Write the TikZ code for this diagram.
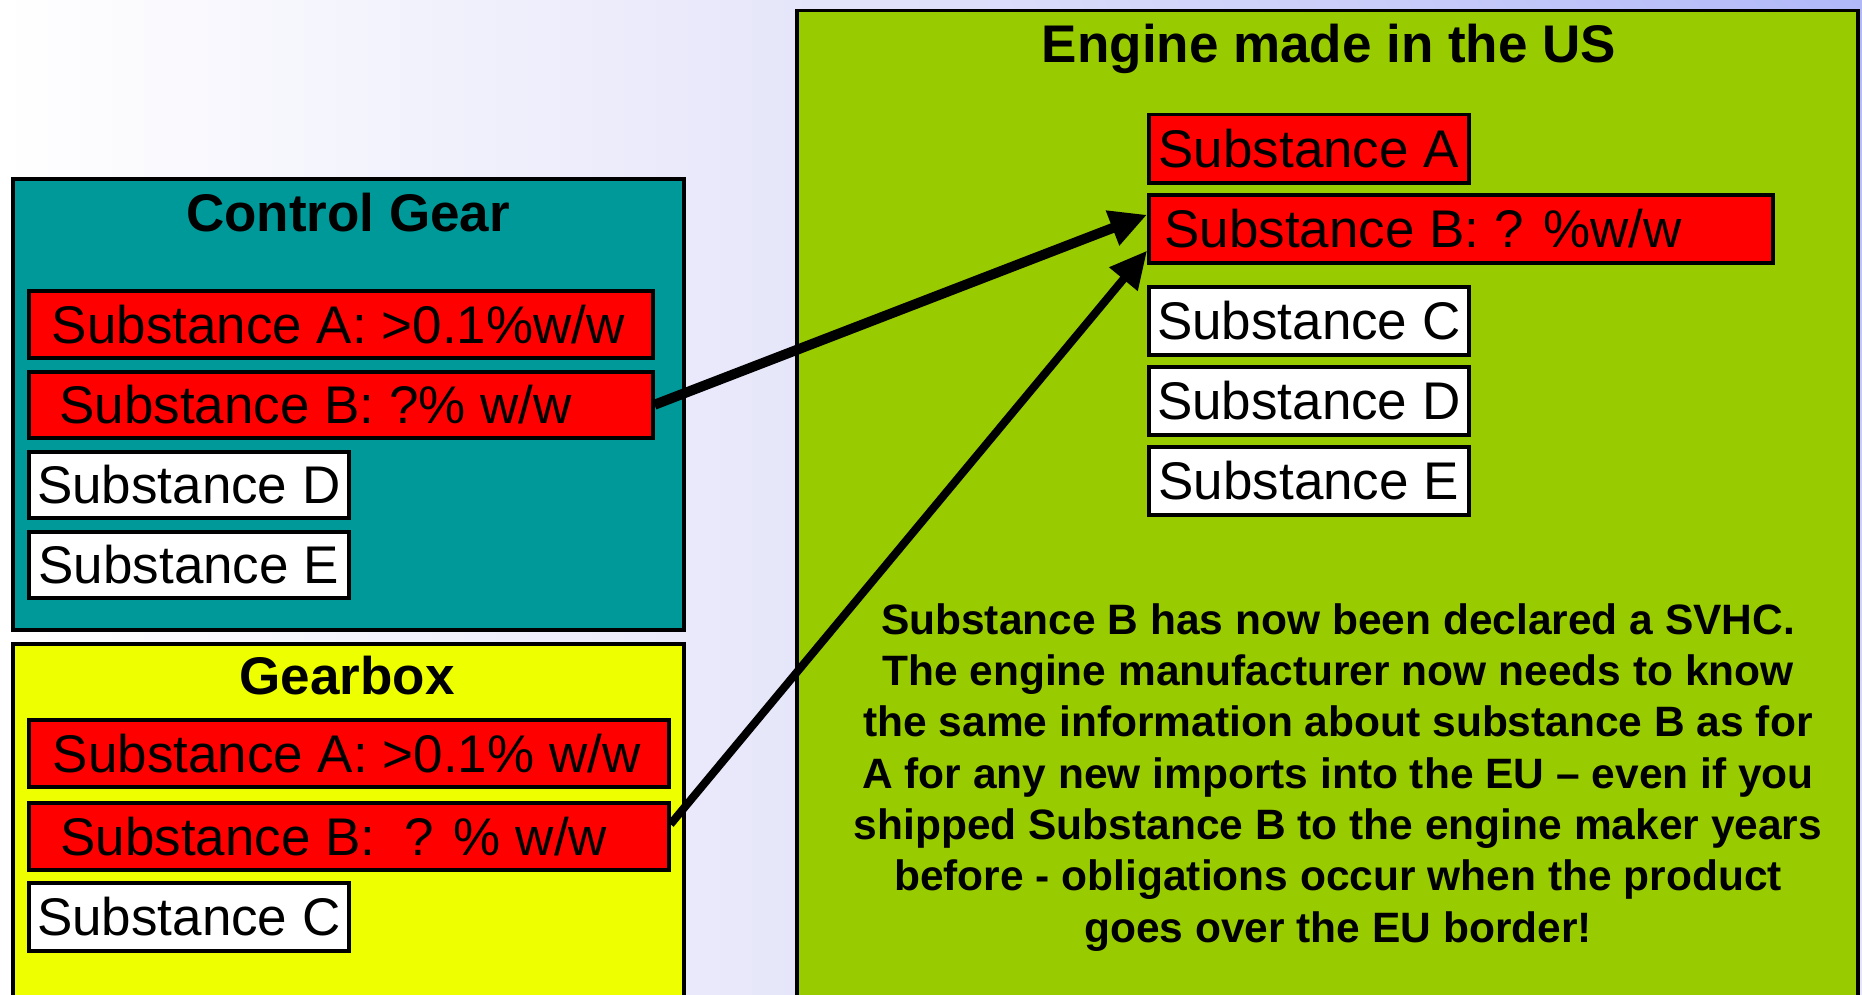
\documentclass[tikz,border=0pt]{standalone}
\usepackage{fontspec}
\setmainfont{Liberation Sans}
\usetikzlibrary{arrows.meta,shadings}
\definecolor{teal0}{RGB}{0,153,153}
\definecolor{yel0}{RGB}{238,255,0}
\definecolor{grn0}{RGB}{153,204,0}
\definecolor{lav0}{RGB}{230,230,250}
\definecolor{blu0}{RGB}{176,184,248}
\tikzset{
 panel/.style={draw=black, line width=1.75pt, anchor=north west, inner sep=0pt},
 sub/.style={draw=black, line width=1.75pt, anchor=north west, inner xsep=0pt, inner ysep=0pt,
   font=\fontsize{26.5pt}{30pt}\selectfont, text height=19pt, text depth=0pt},
 subred/.style={sub, fill=red},
 subwhite/.style={sub, fill=white, minimum width=160pt},
 ttl/.style={anchor=base, inner sep=0pt, font=\bfseries\fontsize{26.5pt}{30pt}\selectfont},
 link/.style={draw=black, -{Triangle[length=18.5pt,width=17.5pt]}},
}
\begin{document}
\begin{tikzpicture}[x=0.5pt,y=-0.5pt]
\useasboundingbox (0,0) rectangle (1862,995);
\clip (0,0) rectangle (1862,995);
% background
\fill[lav0] (0,0) rectangle (1862,995);
\shade[left color=white, right color=lav0] (0,0) rectangle (800,995);
\shade[upper left=lav0, lower left=lav0, upper right=blu0, lower right=lav0] (790,0) rectangle (1862,995);

% panels
\node[panel, fill=teal0, minimum width=335.5pt, minimum height=225.5pt] (cg) at (11,177) {};
\node[panel, fill=yel0, minimum width=335.5pt, minimum height=184pt] (gb) at (11,642) {};
\node[panel, fill=grn0, minimum width=530.5pt, minimum height=500pt] (en) at (795,9) {};

% titles
\node[ttl] (cgT) at (348,231) {Control Gear};
\node[ttl] (gbT) at (347,694) {Gearbox};
\node[ttl] (enT) at (1329,62.5) {Engine made in the US};

% Control Gear substances
\node[subred, minimum height=33.5pt] (cgA) at (27,289) {\makebox[312pt][l]{\hspace*{11.5pt}Substance A: >0.1\%w/w}};
\node[subred, minimum height=33pt] (cgB) at (27,370) {\makebox[312pt][l]{\hspace*{15.25pt}Substance B: ?\% w/w}};
\node[subwhite, minimum height=33pt] (cgD) at (27,450) {Substance D};
\node[subwhite, minimum height=33pt] (cgE) at (27,530) {Substance E};

% Gearbox substances
\node[subred, minimum height=33.5pt] (gbA) at (27,718) {\makebox[320pt][l]{\hspace*{12pt}Substance A: >0.1\% w/w}};
\node[subred, minimum height=33.5pt] (gbB) at (27,801) {\makebox[320pt][l]{\hspace*{15.75pt}Substance B:\ \ ? \% w/w}};
\node[subwhite, minimum height=34pt] (gbC) at (27,881) {Substance C};

% Engine substances
\node[subred, minimum width=160pt, minimum height=34pt] (enA) at (1147,113) {Substance A};
\node[subred, minimum height=34pt] (enB) at (1147,193) {\makebox[312pt][l]{\hspace*{7.75pt}Substance B: ? \%w/w}};
\node[subwhite, minimum height=34pt] (enC) at (1147,285) {Substance C};
\node[subwhite, minimum height=34pt] (enD) at (1147,365) {Substance D};
\node[subwhite, minimum height=34pt] (enE) at (1147,445) {Substance E};

% note
\node[anchor=north, inner sep=0pt, align=center,
      font=\bfseries\fontsize{21.25pt}{25.65pt}\selectfont] (note) at (1338,603)
 {Substance B has now been declared a SVHC.\\
  The engine manufacturer now needs to know\\
  the same information about substance B as for\\
  A for any new imports into the EU – even if you\\
  shipped Substance B to the engine maker years\\
  before - obligations occur when the product\\
  goes over the EU border!};

% connectors
\draw[link, line width=5pt] (cgB.east) -- ([yshift=7pt]enB.west);
\draw[link, line width=4pt] ([yshift=6pt]gbB.east) -- ([yshift=-11pt]enB.west);
\end{tikzpicture}
\end{document}
